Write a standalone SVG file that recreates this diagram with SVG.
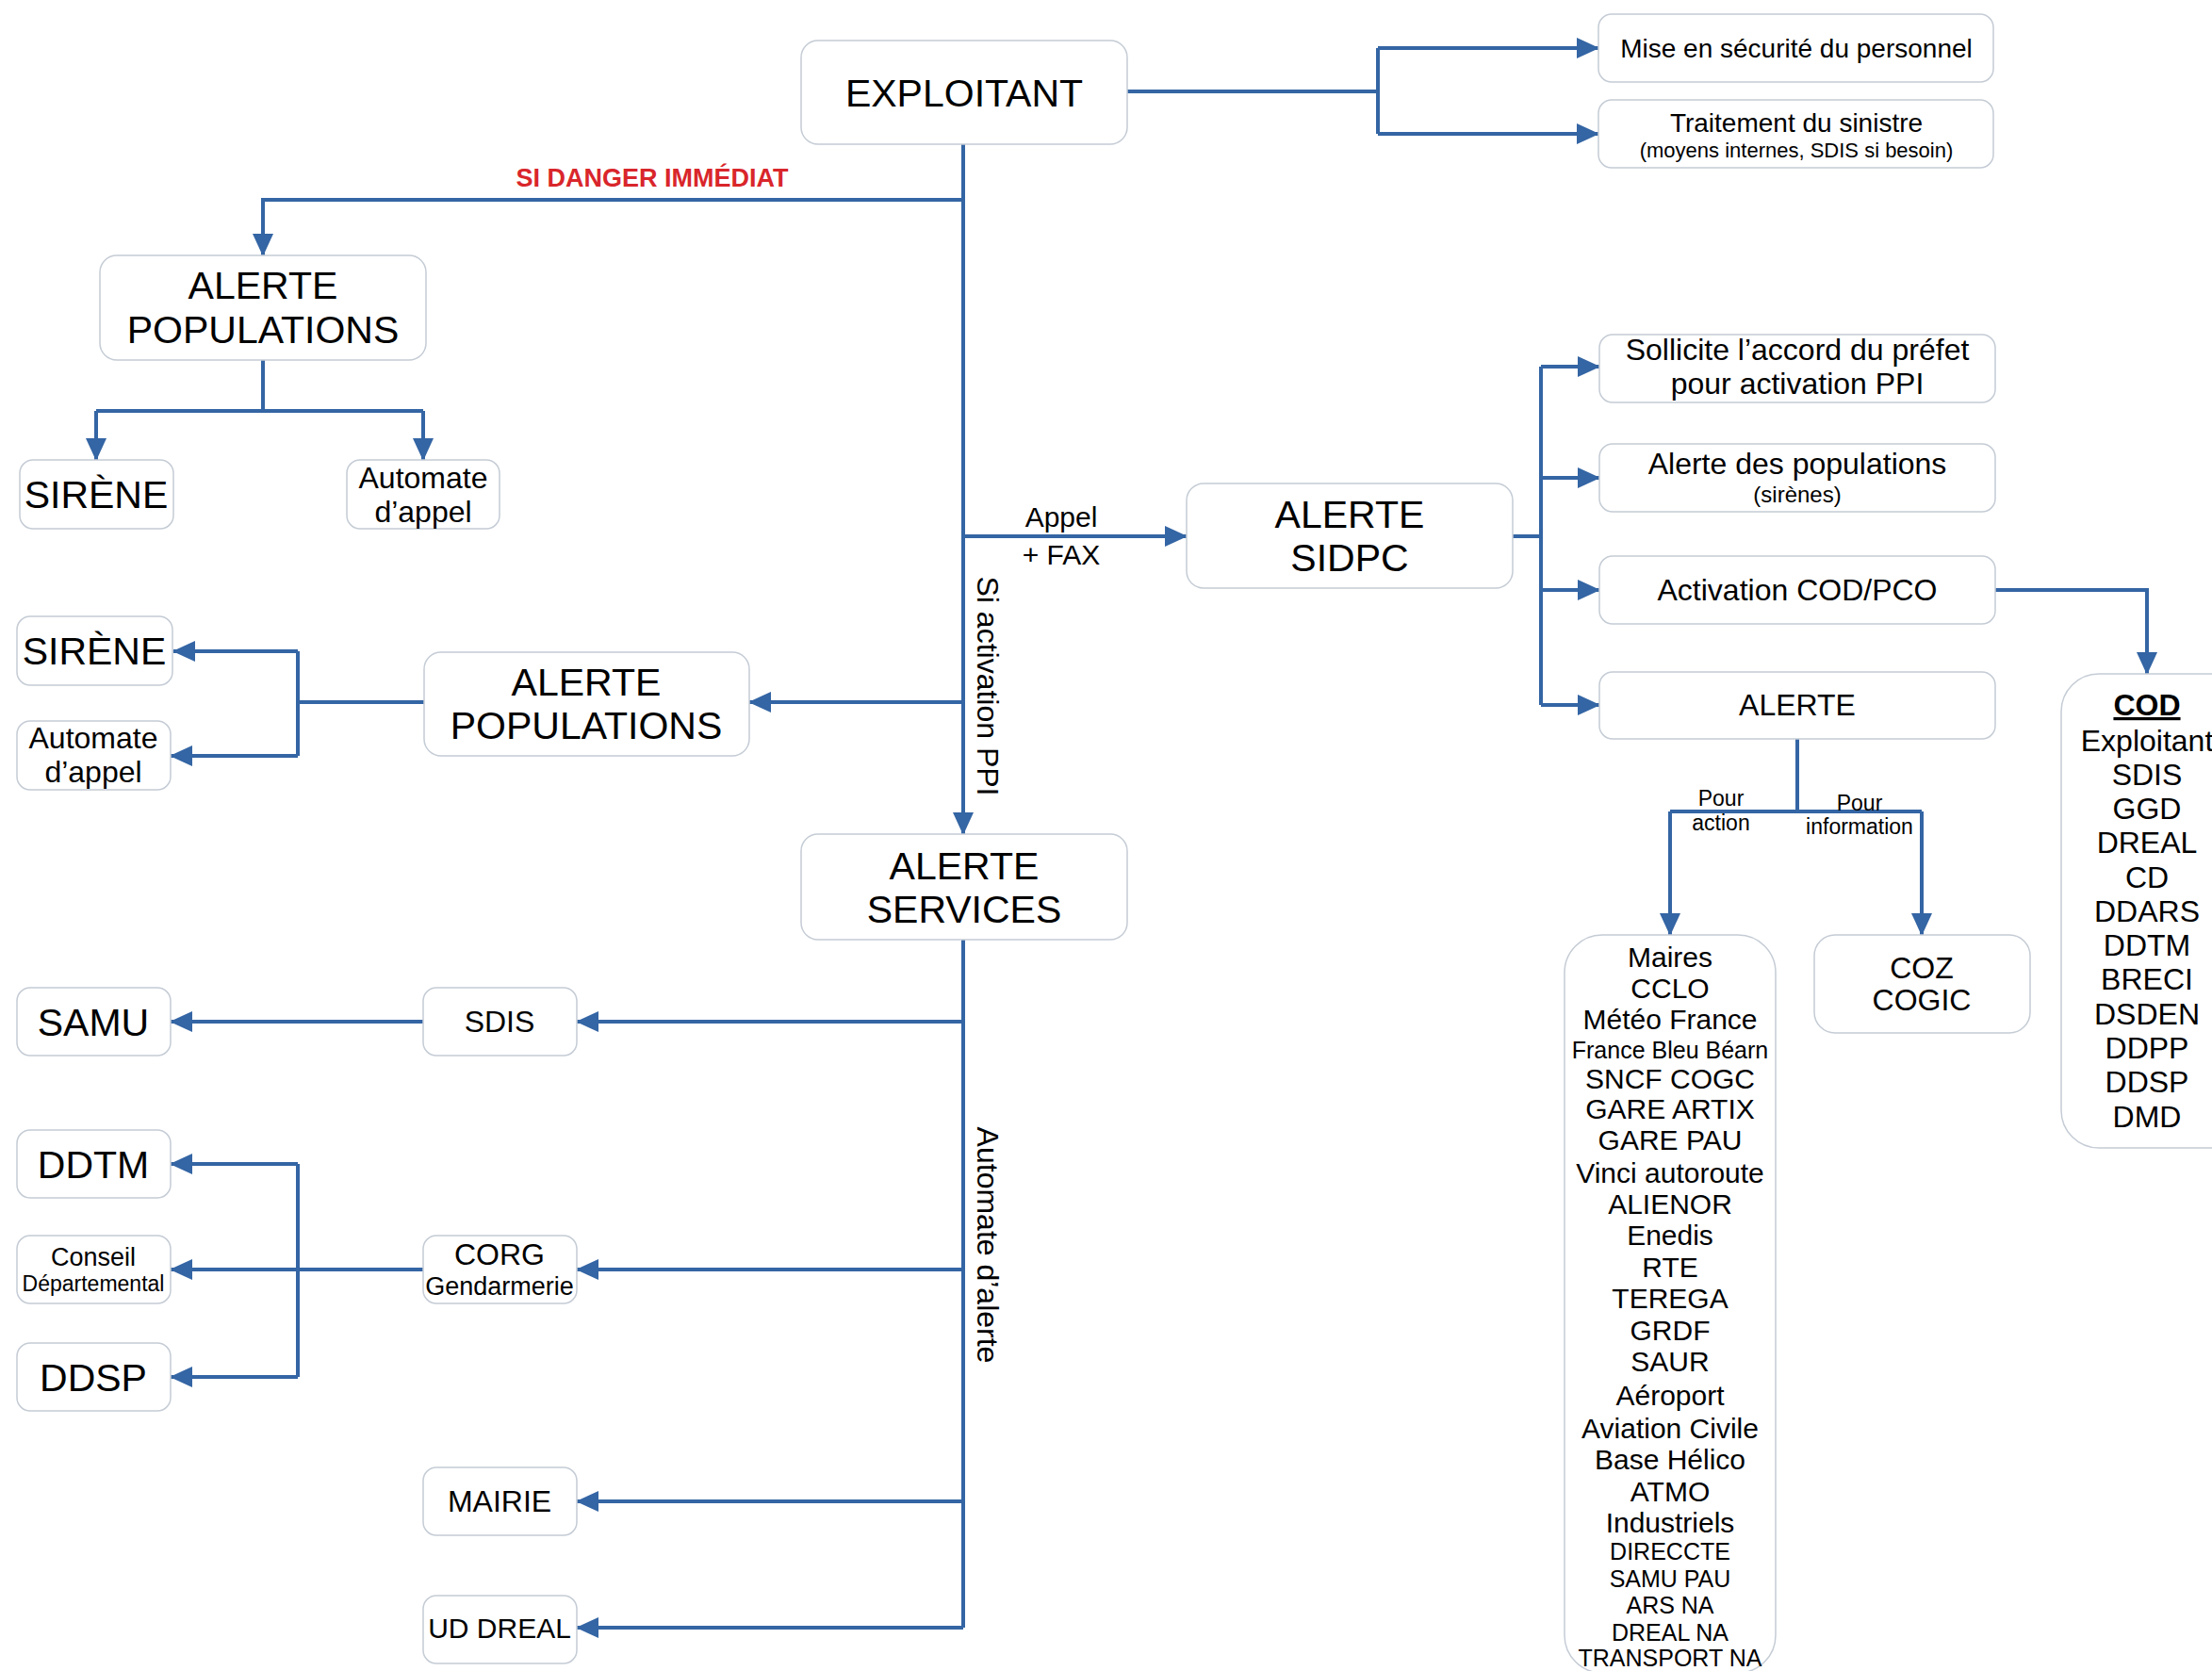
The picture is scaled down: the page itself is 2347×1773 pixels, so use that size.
<svg xmlns="http://www.w3.org/2000/svg" width="2347" height="1773" viewBox="0 0 2347 1773">
<defs>
<marker id="arr" markerUnits="userSpaceOnUse" markerWidth="24" markerHeight="24" viewBox="0 0 24 24" refX="23" refY="12" orient="auto">
<path d="M0,1 L24,12 L0,23 z" fill="#3465a4"/>
</marker>
<style>
.box{fill:#fff;stroke:#c5ccd5;stroke-width:1.5}
.ln{fill:none;stroke:#3465a4;stroke-width:4}
.ar{fill:none;stroke:#3465a4;stroke-width:4;marker-end:url(#arr)}
text{font-family:"Liberation Sans",Arial,sans-serif;fill:#000;text-anchor:middle}
.f41{font-size:41px}.f32{font-size:32px}.f30{font-size:30px}.f28{font-size:28px}.f27{font-size:27px}.f25{font-size:25px}.f24{font-size:24px}.f23{font-size:23px}.f22{font-size:22px}
</style>
</defs>
<rect width="2347" height="1773" fill="#fff"/>
<g id="connectors">
<path class="ln" d="M1196,97 H1462 M1462,51 V142"/>
<path class="ar" d="M1462,51 H1696"/>
<path class="ar" d="M1462,142 H1696"/>
<path class="ar" d="M1022,153 V885"/>
<path class="ar" d="M1022,212 H279 V271"/>
<path class="ln" d="M279,382 V436 M102,436 H449"/>
<path class="ar" d="M102,436 V488"/>
<path class="ar" d="M449,436 V488"/>
<path class="ar" d="M1022,569 H1259"/>
<path class="ln" d="M1605,569 H1635 M1635,389 V748"/>
<path class="ar" d="M1635,389 H1697"/>
<path class="ar" d="M1635,507 H1697"/>
<path class="ar" d="M1635,626 H1697"/>
<path class="ar" d="M1635,748 H1697"/>
<path class="ar" d="M2117,626 H2278 V715"/>
<path class="ln" d="M1907,784 V861 M1772,861 H2039"/>
<path class="ar" d="M1772,861 V992"/>
<path class="ar" d="M2039,861 V992"/>
<path class="ar" d="M1022,745 H795"/>
<path class="ln" d="M450,745 H316 M316,691 V802"/>
<path class="ar" d="M316,691 H184"/>
<path class="ar" d="M316,802 H181"/>
<path class="ln" d="M1022,997 V1727"/>
<path class="ar" d="M1022,1084 H612"/>
<path class="ar" d="M449,1084 H181"/>
<path class="ar" d="M1022,1347 H612"/>
<path class="ar" d="M449,1347 H181"/>
<path class="ln" d="M316,1235 V1461"/>
<path class="ar" d="M316,1235 H181"/>
<path class="ar" d="M316,1461 H181"/>
<path class="ar" d="M1022,1593 H612"/>
<path class="ar" d="M1022,1727 H612"/>
</g>
<g id="labels">
<text x="692" y="198" style="font-size:27px;font-weight:bold;fill:#d9262b">SI DANGER IMMÉDIAT</text>
<text class="f30" x="1126" y="559">Appel</text>
<text class="f30" x="1126" y="599">+ FAX</text>
<text class="f32" transform="translate(1048,728) rotate(90)" x="0" y="11">Si activation PPI</text>
<text class="f32" transform="translate(1048,1321) rotate(90)" x="0" y="11">Automate d’alerte</text>
<text class="f23" x="1826" y="855">Pour</text>
<text class="f23" x="1826" y="881">action</text>
<text class="f23" x="1973" y="860">Pour</text>
<text class="f23" x="1973" y="885">information</text>
</g>
<g id="exploitant"><rect class="box" x="850" y="43" width="346" height="110" rx="18"/><text class="f41" x="1023" y="113">EXPLOITANT</text></g>
<g id="mise-securite"><rect class="box" x="1696" y="15" width="419" height="72" rx="14"/><text class="f28" x="1906" y="61">Mise en sécurité du personnel</text></g>
<g id="traitement"><rect class="box" x="1696" y="106" width="419" height="72" rx="14"/><text class="f28" x="1906" y="140">Traitement du sinistre</text><text class="f22" x="1906" y="167">(moyens internes, SDIS si besoin)</text></g>
<g id="alerte-pop-1"><rect class="box" x="106" y="271" width="346" height="111" rx="18"/><text class="f41" x="279" y="317">ALERTE</text><text class="f41" x="279" y="364">POPULATIONS</text></g>
<g id="sirene-1"><rect class="box" x="21" y="488" width="163" height="73" rx="14"/><text class="f41" x="102" y="539">SIRÈNE</text></g>
<g id="automate-1"><rect class="box" x="368" y="488" width="162" height="73" rx="14"/><text class="f32" x="449" y="518">Automate</text><text class="f32" x="449" y="554">d’appel</text></g>
<g id="alerte-sidpc"><rect class="box" x="1259" y="513" width="346" height="111" rx="18"/><text class="f41" x="1432" y="560">ALERTE</text><text class="f41" x="1432" y="606">SIDPC</text></g>
<g id="sollicite"><rect class="box" x="1697" y="355" width="420" height="72" rx="14"/><text class="f32" x="1907" y="382">Sollicite l’accord du préfet</text><text class="f32" x="1907" y="418">pour activation PPI</text></g>
<g id="alerte-des-pop"><rect class="box" x="1697" y="471" width="420" height="72" rx="14"/><text class="f32" x="1907" y="503">Alerte des populations</text><text class="f24" x="1907" y="533">(sirènes)</text></g>
<g id="activation-cod"><rect class="box" x="1697" y="590" width="420" height="72" rx="14"/><text class="f32" x="1907" y="637">Activation COD/PCO</text></g>
<g id="alerte"><rect class="box" x="1697" y="713" width="420" height="71" rx="14"/><text class="f32" x="1907" y="759">ALERTE</text></g>
<g id="cod"><rect class="box" x="2187" y="715" width="220" height="503" rx="40"/>
<text class="f32" x="2278" y="759" style="font-weight:bold;text-decoration:underline">COD</text>
<text class="f32" x="2278" y="797">Exploitant</text>
<text class="f32" x="2278" y="833">SDIS</text>
<text class="f32" x="2278" y="869">GGD</text>
<text class="f32" x="2278" y="905">DREAL</text>
<text class="f32" x="2278" y="942">CD</text>
<text class="f32" x="2278" y="978">DDARS</text>
<text class="f32" x="2278" y="1014">DDTM</text>
<text class="f32" x="2278" y="1050">BRECI</text>
<text class="f32" x="2278" y="1087">DSDEN</text>
<text class="f32" x="2278" y="1123">DDPP</text>
<text class="f32" x="2278" y="1159">DDSP</text>
<text class="f32" x="2278" y="1196">DMD</text>
</g>
<g id="maires"><rect class="box" x="1660" y="992" width="224" height="783" rx="40"/>
<text class="f30" x="1772" y="1026">Maires</text>
<text class="f30" x="1772" y="1059">CCLO</text>
<text class="f30" x="1772" y="1092">Météo France</text>
<text class="f25" x="1772" y="1123">France Bleu Béarn</text>
<text class="f30" x="1772" y="1155">SNCF COGC</text>
<text class="f30" x="1772" y="1187">GARE ARTIX</text>
<text class="f30" x="1772" y="1220">GARE PAU</text>
<text class="f30" x="1772" y="1255">Vinci autoroute</text>
<text class="f30" x="1772" y="1288">ALIENOR</text>
<text class="f30" x="1772" y="1321">Enedis</text>
<text class="f30" x="1772" y="1355">RTE</text>
<text class="f30" x="1772" y="1388">TEREGA</text>
<text class="f30" x="1772" y="1422">GRDF</text>
<text class="f30" x="1772" y="1455">SAUR</text>
<text class="f30" x="1772" y="1491">Aéroport</text>
<text class="f30" x="1772" y="1526">Aviation Civile</text>
<text class="f30" x="1772" y="1559">Base Hélico</text>
<text class="f30" x="1772" y="1593">ATMO</text>
<text class="f30" x="1772" y="1626">Industriels</text>
<text class="f25" x="1772" y="1655">DIRECCTE</text>
<text class="f25" x="1772" y="1684">SAMU PAU</text>
<text class="f25" x="1772" y="1712">ARS NA</text>
<text class="f25" x="1772" y="1741">DREAL NA</text>
<text class="f25" x="1772" y="1768">TRANSPORT NA</text>
</g>
<g id="coz"><rect class="box" x="1925" y="992" width="229" height="104" rx="22"/><text class="f32" x="2039" y="1038">COZ</text><text class="f32" x="2039" y="1072">COGIC</text></g>
<g id="alerte-pop-2"><rect class="box" x="450" y="692" width="345" height="110" rx="18"/><text class="f41" x="622" y="738">ALERTE</text><text class="f41" x="622" y="784">POPULATIONS</text></g>
<g id="sirene-2"><rect class="box" x="18" y="654" width="165" height="73" rx="14"/><text class="f41" x="100" y="705">SIRÈNE</text></g>
<g id="automate-2"><rect class="box" x="18" y="765" width="163" height="73" rx="14"/><text class="f32" x="99" y="794">Automate</text><text class="f32" x="99" y="830">d’appel</text></g>
<g id="alerte-services"><rect class="box" x="850" y="885" width="346" height="112" rx="18"/><text class="f41" x="1023" y="933">ALERTE</text><text class="f41" x="1023" y="979">SERVICES</text></g>
<g id="sdis"><rect class="box" x="449" y="1048" width="163" height="72" rx="14"/><text class="f32" x="530" y="1095">SDIS</text></g>
<g id="samu"><rect class="box" x="18" y="1048" width="163" height="72" rx="14"/><text class="f41" x="99" y="1099">SAMU</text></g>
<g id="corg"><rect class="box" x="449" y="1311" width="163" height="72" rx="14"/><text class="f32" x="530" y="1342">CORG</text><text class="f27" x="530" y="1374">Gendarmerie</text></g>
<g id="ddtm"><rect class="box" x="18" y="1199" width="163" height="72" rx="14"/><text class="f41" x="99" y="1250">DDTM</text></g>
<g id="conseil"><rect class="box" x="18" y="1311" width="163" height="72" rx="14"/><text class="f27" x="99" y="1343">Conseil</text><text class="f23" x="99" y="1370">Départemental</text></g>
<g id="ddsp"><rect class="box" x="18" y="1425" width="163" height="72" rx="14"/><text class="f41" x="99" y="1476">DDSP</text></g>
<g id="mairie"><rect class="box" x="449" y="1557" width="163" height="72" rx="14"/><text class="f32" x="530" y="1604">MAIRIE</text></g>
<g id="ud-dreal"><rect class="box" x="449" y="1693" width="163" height="72" rx="14"/><text class="f30" x="530" y="1738">UD DREAL</text></g>
</svg>
